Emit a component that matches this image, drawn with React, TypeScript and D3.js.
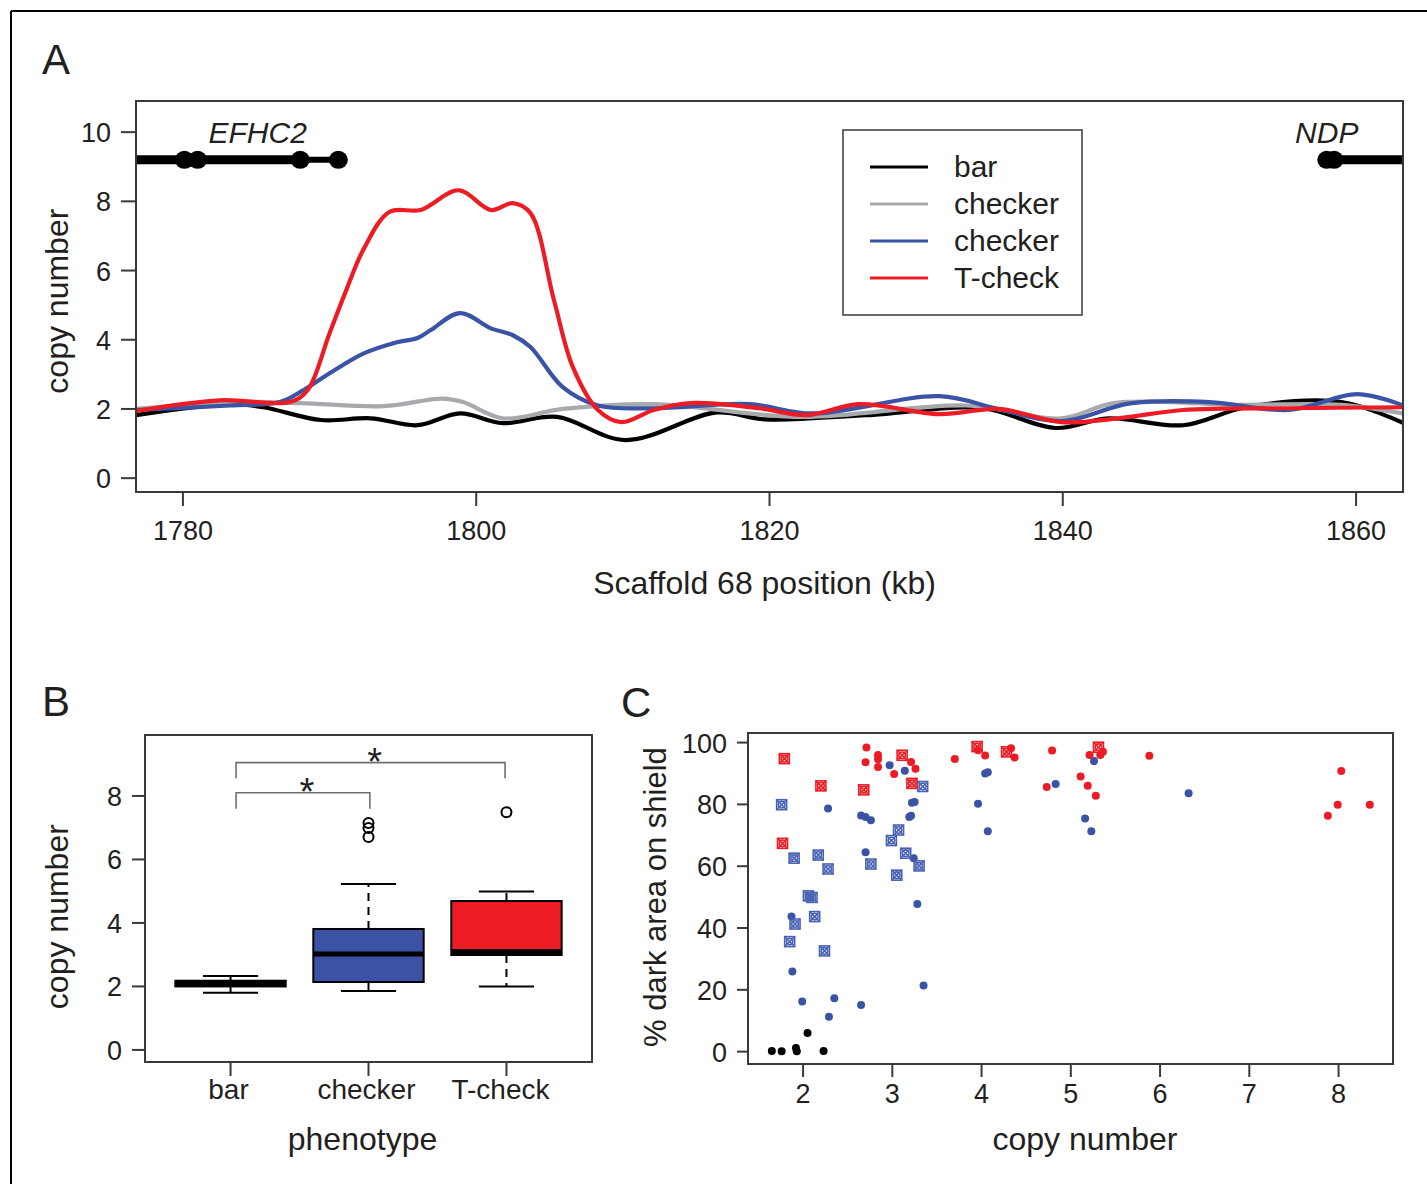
import React from "react";
import * as d3 from "d3";

// ---- Panel A: smoothed copy number along scaffold 68 (kb, copy number)
const barTrace: [number, number][] = [
  [1776.8, 1.82], [1783.2, 2.14], [1785.5, 2.05], [1789.4, 1.68], [1792.8, 1.73],
  [1796.0, 1.53], [1798.9, 1.87], [1801.8, 1.59], [1805.5, 1.77], [1810.2, 1.1],
  [1816.4, 1.9], [1819.7, 1.7], [1826.6, 1.82], [1834.5, 2.02], [1839.5, 1.45],
  [1843.1, 1.73], [1848.2, 1.53], [1852.5, 2.05], [1859.0, 2.2], [1863.2, 1.6],
];
const checkerGrayTrace: [number, number][] = [
  [1776.8, 2.0], [1783.2, 2.2], [1788.0, 2.17], [1793.7, 2.08], [1797.7, 2.3],
  [1799.1, 2.2], [1801.8, 1.73], [1805.9, 2.0], [1812.1, 2.14], [1822.2, 1.77],
  [1833.4, 2.1], [1839.9, 1.73], [1843.5, 2.17], [1851.8, 2.12], [1859.0, 2.12],
  [1863.2, 1.87],
];
const checkerBlueTrace: [number, number][] = [
  [1776.8, 1.97], [1783.2, 2.1], [1786.6, 2.2], [1788.2, 2.54], [1790.0, 3.03],
  [1792.3, 3.6], [1794.6, 3.93], [1796.0, 4.05], [1796.9, 4.28], [1798.9, 4.77],
  [1801.0, 4.33], [1802.5, 4.13], [1803.7, 3.79], [1805.9, 2.63], [1808.3, 2.1],
  [1812.1, 2.02], [1818.6, 2.14], [1822.9, 1.87], [1831.6, 2.37], [1835.6, 2.0],
  [1839.9, 1.65], [1844.6, 2.16], [1850.0, 2.2], [1855.4, 1.97], [1860.1, 2.43],
  [1863.2, 2.1],
];
const tcheckTrace: [number, number][] = [
  [1776.8, 1.94], [1782.5, 2.25], [1787.3, 2.2], [1788.5, 2.54], [1790.0, 4.19],
  [1791.2, 5.5], [1792.3, 6.6], [1794.1, 7.7], [1796.2, 7.75], [1798.8, 8.32],
  [1801.0, 7.75], [1802.5, 7.95], [1803.7, 7.66], [1805.3, 5.15], [1806.6, 3.2],
  [1808.3, 1.97], [1809.9, 1.62], [1812.1, 1.97], [1814.6, 2.17], [1819.3, 2.02],
  [1822.5, 1.82], [1826.1, 2.14], [1831.6, 1.85], [1835.6, 2.0], [1839.9, 1.62],
  [1843.8, 1.73], [1848.2, 1.97], [1855.4, 2.02], [1863.2, 2.05],
];
const legendLabels = ["bar", "checker", "checker", "T-check"];
const traceColors = ["#000000", "#a7a9ac", "#3a53a4", "#ed1c24"];
const xTicksA = [1780, 1800, 1820, 1840, 1860];
const yTicksA = [0, 2, 4, 6, 8, 10];

// gene models drawn on top of panel A
const efhc2Span = [1776.8, 1790.6];
const efhc2Exons = [1780.1, 1781.0, 1788.0, 1790.6];
const ndpSpan = [1858.0, 1863.2];
const ndpExons = [1858.0, 1858.5];
const geneLevel = 9.2;

// ---- Panel B: box plot summary
const phenotypes = ["bar", "checker", "T-check"];
const boxColors = ["#000000", "#3a53a4", "#ed1c24"];
const whiskLow = [1.8, 1.86, 2.0];
const boxQ1 = [2.0, 2.14, 2.99];
const boxMedian = [2.08, 3.02, 3.1];
const boxQ3 = [2.18, 3.81, 4.69];
const whiskHigh = [2.33, 5.23, 4.99];
const outlierGroup = [2, 2, 2, 3];
const outlierValue = [7.15, 6.99, 6.71, 7.49];
const bracketFrom = [1.04, 1.04];
const bracketTo = [2.01, 2.99];
const bracketTop = [8.1, 9.05];
const bracketFoot = [7.6, 8.56];
const yTicksB = [0, 2, 4, 6, 8];

// ---- Panel C: copy number vs % dark area
const tcheckBoxes: [number, number][] = [
  [1.79, 94.8], [2.2, 86.0], [1.77, 67.4], [2.68, 84.7], [3.11, 95.9],
  [3.22, 86.8], [3.95, 98.7], [4.28, 97.0], [5.31, 98.5],
];
const tcheckDots: [number, number][] = [
  [2.71, 98.4], [2.7, 93.6], [2.84, 96.0], [2.84, 94.6], [2.84, 92.1], [3.02, 89.8],
  [3.21, 93.7], [3.26, 91.5], [3.7, 94.7], [3.96, 97.5], [4.04, 95.8], [4.33, 98.2],
  [4.37, 95.2], [4.79, 97.4], [4.73, 85.6], [5.11, 89.0], [5.19, 86.0], [5.28, 82.8],
  [5.21, 96.0], [5.33, 96.0], [5.36, 97.0], [5.88, 95.7], [8.03, 90.8], [7.99, 79.9],
  [7.88, 76.3], [8.35, 79.9],
];
const checkerDots: [number, number][] = [
  [2.97, 92.7], [3.14, 90.9], [2.28, 78.7], [2.65, 76.4], [2.7, 75.9], [2.76, 74.9],
  [2.7, 64.5], [3.24, 62.6], [3.28, 47.8], [1.87, 43.7], [1.88, 25.9], [1.99, 16.2],
  [2.35, 17.3], [2.29, 11.3], [2.65, 15.1], [3.35, 21.4], [3.19, 75.9], [3.21, 76.3],
  [3.22, 80.5], [3.25, 80.8], [4.04, 90.0], [4.07, 90.4], [3.96, 80.2], [4.07, 71.3],
  [4.83, 86.6], [5.26, 94.0], [5.16, 75.4], [5.23, 71.3], [6.32, 83.6],
];
const checkerBoxes: [number, number][] = [
  [1.76, 79.9], [1.9, 62.6], [1.91, 41.3], [1.85, 35.6], [2.17, 63.6], [2.28, 59.1],
  [2.06, 50.4], [2.1, 49.9], [2.13, 43.7], [2.24, 32.6], [2.76, 60.7], [2.99, 68.3],
  [3.07, 71.7], [3.15, 64.2], [3.05, 57.1], [3.3, 60.1], [3.34, 85.8],
];
const barDots: [number, number][] = [
  [1.65, 0.2], [1.76, 0.1], [1.92, 1.2], [1.93, 0.1], [2.05, 6.0], [2.23, 0.2],
];
const xTicksC = [2, 3, 4, 5, 6, 7, 8];
const yTicksC = [0, 20, 40, 60, 80, 100];

const FONT = "'Liberation Sans', Arial, Helvetica, sans-serif";
const INK = "#231f20";
const FRAME = "#3a3a3a";

const BoxMark = ({ x, y, color }: { x: number; y: number; color: string }) => (
  <g transform={`translate(${x},${y})`} stroke={color} fill="none" strokeWidth={1.6}>
    <rect x={-5} y={-5} width={10} height={10} />
    <circle r={3.3} />
    <line x1={-5} y1={-5} x2={5} y2={5} />
    <line x1={-5} y1={5} x2={5} y2={-5} />
  </g>
);

export default function App() {
  // panel A scales
  const ax = d3.scaleLinear().domain([1776.8, 1863.2]).range([136, 1403]);
  const ay = d3.scaleLinear().domain([-0.4, 10.9]).range([492, 101]);
  const line = d3
    .line<[number, number]>()
    .x((d) => ax(d[0]))
    .y((d) => ay(d[1]))
    .curve(d3.curveCatmullRom.alpha(0.5));
  const traces = [barTrace, checkerGrayTrace, checkerBlueTrace, tcheckTrace];

  // panel B scales
  const bx = d3.scaleLinear().domain([0.38, 3.62]).range([145, 592]);
  const by = d3.scaleLinear().domain([-0.38, 9.92]).range([1062, 735]);
  const halfBox = bx(0.4) - bx(0);
  const halfCap = bx(0.2) - bx(0);

  // panel C scales
  const cx = d3.scaleLinear().domain([1.383, 8.61]).range([748, 1393]);
  const cy = d3.scaleLinear().domain([-4, 103.1]).range([1064, 733]);

  const tick = 27;
  const title = 32;

  return (
    <svg
      width={1427}
      height={1184}
      style={{ position: "absolute", left: 0, top: 0, background: "#fff" }}
      fontFamily={FONT}
    >
      {/* outer frame */}
      <line x1={11} y1={11} x2={1427} y2={11} stroke="#000" strokeWidth={2} />
      <line x1={11} y1={11} x2={11} y2={1184} stroke="#000" strokeWidth={2} />

      {/* ================= Panel A ================= */}
      <text x={42} y={74} fontSize={42} fill={INK}>A</text>
      <defs>
        <clipPath id="clipA">
          <rect x={ax.range()[0]} y={ay.range()[1]} width={ax.range()[1] - ax.range()[0]} height={ay.range()[0] - ay.range()[1]} />
        </clipPath>
      </defs>
      <g clipPath="url(#clipA)">
        {traces.map((t, i) => (
          <path key={i} d={line(t) ?? ""} fill="none" stroke={traceColors[i]} strokeWidth={4.2} strokeLinejoin="round" />
        ))}
        {/* gene models */}
        <line x1={ax(efhc2Span[0])} x2={ax(efhc2Exons[2])} y1={ay(geneLevel)} y2={ay(geneLevel)} stroke="#000" strokeWidth={9} />
        <line x1={ax(efhc2Exons[2])} x2={ax(efhc2Span[1])} y1={ay(geneLevel)} y2={ay(geneLevel)} stroke="#000" strokeWidth={6} />
        {efhc2Exons.map((e, i) => (
          <ellipse key={i} cx={ax(e)} cy={ay(geneLevel)} rx={9.5} ry={9} fill="#000" />
        ))}
        <line x1={ax(ndpSpan[0])} x2={ax(ndpSpan[1])} y1={ay(geneLevel)} y2={ay(geneLevel)} stroke="#000" strokeWidth={9} />
        {ndpExons.map((e, i) => (
          <ellipse key={i} cx={ax(e)} cy={ay(geneLevel)} rx={9.5} ry={9} fill="#000" />
        ))}
      </g>
      <text x={ax(1785.1)} y={143} fontSize={30} fontStyle="italic" textAnchor="middle" fill={INK}>EFHC2</text>
      <text x={ax(1858.0)} y={143} fontSize={30} fontStyle="italic" textAnchor="middle" fill={INK}>NDP</text>

      <rect x={136} y={101} width={1267} height={391} fill="none" stroke={FRAME} strokeWidth={2} />
      {yTicksA.map((t) => (
        <g key={t}>
          <line x1={121} x2={136} y1={ay(t)} y2={ay(t)} stroke={FRAME} strokeWidth={2} />
          <text x={111} y={ay(t) + 10} fontSize={tick} textAnchor="end" fill={INK}>{t}</text>
        </g>
      ))}
      {xTicksA.map((t) => (
        <g key={t}>
          <line x1={ax(t)} x2={ax(t)} y1={492} y2={506} stroke={FRAME} strokeWidth={2} />
          <text x={ax(t)} y={540} fontSize={tick} textAnchor="middle" fill={INK}>{t}</text>
        </g>
      ))}
      <text transform={`translate(68,${(ay(0) + ay(10)) / 2 - 4}) rotate(-90)`} fontSize={title} textAnchor="middle" fill={INK}>copy number</text>
      <text x={(ax(1780) + ax(1860)) / 2 - 5} y={594} fontSize={title} textAnchor="middle" fill={INK}>Scaffold 68 position (kb)</text>

      {/* legend */}
      <rect x={843} y={130} width={239} height={185} fill="#fff" stroke={FRAME} strokeWidth={1.5} />
      {legendLabels.map((l, i) => (
        <g key={i}>
          <line x1={870} x2={928} y1={167 + i * 37} y2={167 + i * 37} stroke={traceColors[i]} strokeWidth={3} />
          <text x={954} y={167 + i * 37 + 10} fontSize={30} fill={INK}>{l}</text>
        </g>
      ))}

      {/* ================= Panel B ================= */}
      <text x={42} y={716} fontSize={42} fill={INK}>B</text>
      {phenotypes.map((p, i) => {
        const g = i + 1;
        const c = bx(g);
        return (
          <g key={p}>
            <line x1={c} x2={c} y1={by(boxQ3[i])} y2={by(whiskHigh[i])} stroke="#000" strokeWidth={2} strokeDasharray="8,6" />
            <line x1={c} x2={c} y1={by(boxQ1[i])} y2={by(whiskLow[i])} stroke="#000" strokeWidth={2} strokeDasharray="8,6" />
            <line x1={c - halfCap} x2={c + halfCap} y1={by(whiskHigh[i])} y2={by(whiskHigh[i])} stroke="#000" strokeWidth={2} />
            <line x1={c - halfCap} x2={c + halfCap} y1={by(whiskLow[i])} y2={by(whiskLow[i])} stroke="#000" strokeWidth={2} />
            <rect x={c - halfBox} y={by(boxQ3[i])} width={2 * halfBox} height={by(boxQ1[i]) - by(boxQ3[i])} fill={boxColors[i]} stroke="#000" strokeWidth={2} />
            <line x1={c - halfBox} x2={c + halfBox} y1={by(boxMedian[i])} y2={by(boxMedian[i])} stroke="#000" strokeWidth={5} />
          </g>
        );
      })}
      {outlierValue.map((v, i) => (
        <circle key={i} cx={bx(outlierGroup[i])} cy={by(v)} r={5} fill="none" stroke="#000" strokeWidth={2} />
      ))}
      {bracketFrom.map((f, i) => (
        <g key={i}>
          <path
            d={`M${bx(f)},${by(bracketFoot[i])}V${by(bracketTop[i])}H${bx(bracketTo[i])}V${by(bracketFoot[i])}`}
            fill="none"
            stroke="#6d6e71"
            strokeWidth={1.6}
          />
          <text x={(bx(f) + bx(bracketTo[i])) / 2 + 4} y={by(bracketTop[i]) + 12} fontSize={38} textAnchor="middle" fill={INK}>*</text>
        </g>
      ))}
      <rect x={145} y={735} width={447} height={327} fill="none" stroke={FRAME} strokeWidth={2} />
      {yTicksB.map((t) => (
        <g key={t}>
          <line x1={132} x2={145} y1={by(t)} y2={by(t)} stroke={FRAME} strokeWidth={2} />
          <text x={122} y={by(t) + 10} fontSize={tick} textAnchor="end" fill={INK}>{t}</text>
        </g>
      ))}
      {phenotypes.map((p, i) => (
        <g key={p}>
          <line x1={bx(i + 1)} x2={bx(i + 1)} y1={1062} y2={1076} stroke={FRAME} strokeWidth={2} />
          <text x={bx(i + 1) - (i === 2 ? 6 : 2)} y={1099} fontSize={28} textAnchor="middle" fill={INK}>{p}</text>
        </g>
      ))}
      <text transform={`translate(68,${(by(0) + by(8.9)) / 2 + 8}) rotate(-90)`} fontSize={title} textAnchor="middle" fill={INK}>copy number</text>
      <text x={bx(2) - 6} y={1150} fontSize={title} textAnchor="middle" fill={INK}>phenotype</text>

      {/* ================= Panel C ================= */}
      <text x={621} y={717} fontSize={42} fill={INK}>C</text>
      {barDots.map((d, i) => (
        <circle key={`b${i}`} cx={cx(d[0])} cy={cy(d[1])} r={4} fill="#000" />
      ))}
      {checkerDots.map((d, i) => (
        <circle key={`c${i}`} cx={cx(d[0])} cy={cy(d[1])} r={4} fill="#3a53a4" />
      ))}
      {checkerBoxes.map((d, i) => (
        <BoxMark key={`cb${i}`} x={cx(d[0])} y={cy(d[1])} color="#4a63b4" />
      ))}
      {tcheckDots.map((d, i) => (
        <circle key={`t${i}`} cx={cx(d[0])} cy={cy(d[1])} r={4} fill="#ed1c24" />
      ))}
      {tcheckBoxes.map((d, i) => (
        <BoxMark key={`tb${i}`} x={cx(d[0])} y={cy(d[1])} color="#ed1c24" />
      ))}
      <rect x={748} y={733} width={645} height={331} fill="none" stroke={FRAME} strokeWidth={2} />
      {yTicksC.map((t) => (
        <g key={t}>
          <line x1={737} x2={748} y1={cy(t)} y2={cy(t)} stroke={FRAME} strokeWidth={2} />
          <text x={727} y={cy(t) + 10} fontSize={tick} textAnchor="end" fill={INK}>{t}</text>
        </g>
      ))}
      {xTicksC.map((t) => (
        <g key={t}>
          <line x1={cx(t)} x2={cx(t)} y1={1064} y2={1077} stroke={FRAME} strokeWidth={2} />
          <text x={cx(t)} y={1103} fontSize={tick} textAnchor="middle" fill={INK}>{t}</text>
        </g>
      ))}
      <text transform={`translate(666,${(cy(0) + cy(100)) / 2}) rotate(-90)`} fontSize={31} textAnchor="middle" fill={INK}>% dark area on shield</text>
      <text x={1085} y={1150} fontSize={title} textAnchor="middle" fill={INK}>copy number</text>
    </svg>
  );
}
